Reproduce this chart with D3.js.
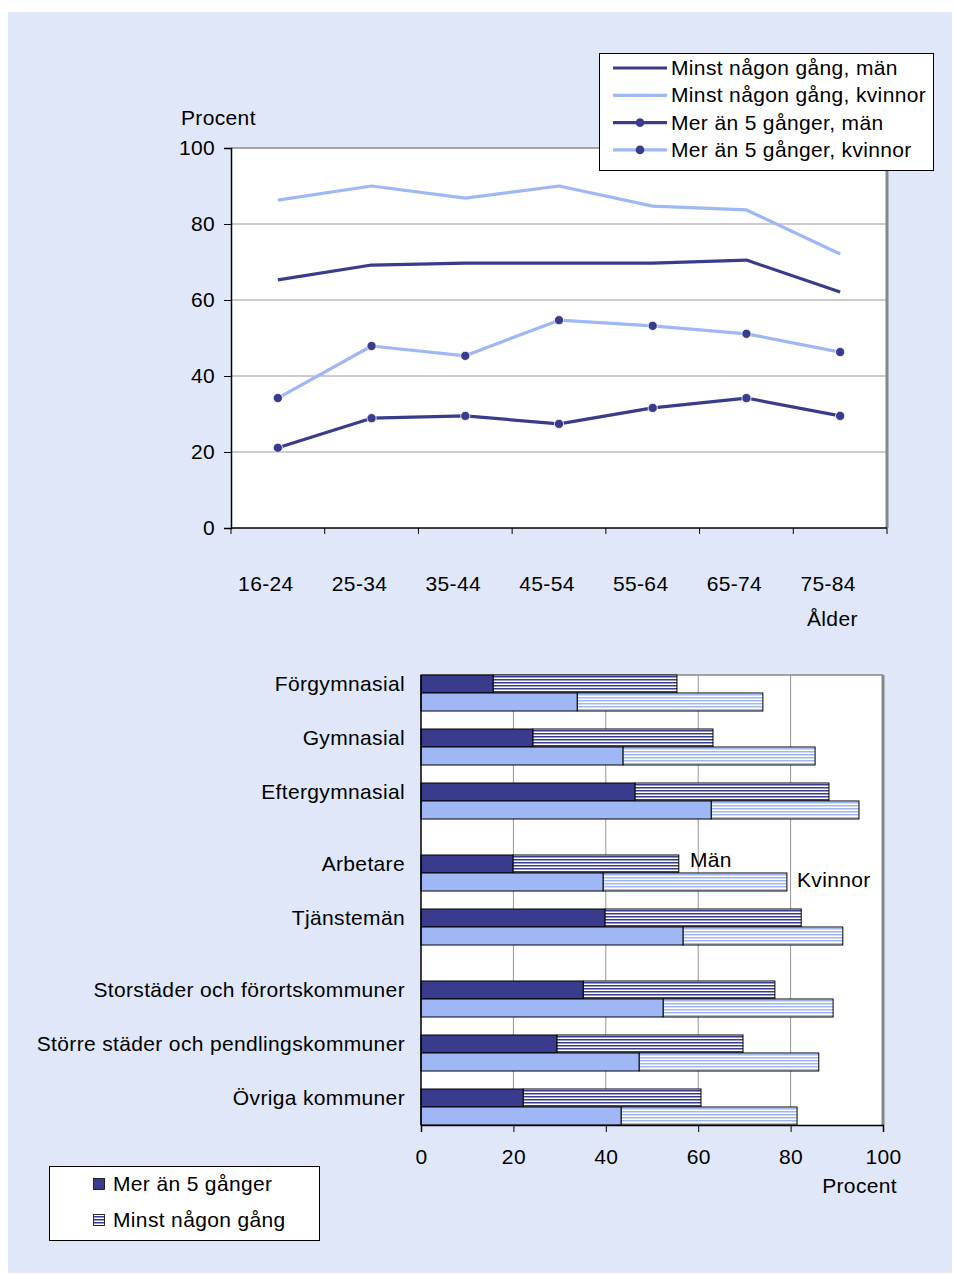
<!DOCTYPE html>
<html>
<head>
<meta charset="utf-8">
<script src="https://cdn.jsdelivr.net/npm/d3@7"></script>
<style>
body { margin: 0; background: #fff; }
text { font-family: "Liberation Sans", Arial, sans-serif; fill: #000; letter-spacing: 0.35px; }
</style>
</head>
<body>
<svg id="chart" width="954" height="1275"></svg>
<script>
// line chart data (percent)
var ageGroups = ["16-24", "25-34", "35-44", "45-54", "55-64", "65-74", "75-84"];
var minstMan = [65.3, 69.2, 69.7, 69.7, 69.7, 70.5, 62.1];
var minstKvinnor = [86.3, 90, 86.8, 90, 84.7, 83.7, 72.1];
var merMan = [21.1, 28.9, 29.5, 27.4, 31.6, 34.2, 29.5];
var merKvinnor = [34.2, 47.9, 45.3, 54.7, 53.2, 51.1, 46.3];
var lineTicks = [0, 20, 40, 60, 80, 100];

// bar chart data (percent)
var barCategories = ["Förgymnasial", "Gymnasial", "Eftergymnasial", "Arbetare", "Tjänstemän",
    "Storstäder och förortskommuner", "Större städer och pendlingskommuner", "Övriga kommuner"];
var barGroup = [0, 0, 0, 1, 1, 2, 2, 2];
var merAn5Man = [15.6, 24.2, 46.3, 19.9, 39.8, 35.1, 29.4, 22.1];
var minstNagonMan = [55.4, 63.2, 88.3, 55.8, 82.3, 76.6, 69.7, 60.6];
var merAn5Kvinnor = [33.8, 43.7, 62.8, 39.4, 56.7, 52.4, 47.2, 43.3];
var minstNagonKvinnor = [74.0, 85.3, 94.8, 79.2, 91.3, 89.2, 86.1, 81.4];
var barTicks = [0, 20, 40, 60, 80, 100];

var dark = "#393C8C";
var light = "#9FB7F5";
var fontSize = 21;

var svg = d3.select("#chart");

svg.append("rect").attr("x", 8).attr("y", 12).attr("width", 944).attr("height", 1261)
    .attr("fill", "#DFE7F8");

var defs = svg.append("defs");
makeStripes("stripeDark", dark);
makeStripes("stripeLight", light);

function makeStripes(id, color) {
    var p = defs.append("pattern").attr("id", id)
        .attr("patternUnits", "userSpaceOnUse")
        .attr("width", 6).attr("height", 3);
    p.append("rect").attr("width", 6).attr("height", 3).attr("fill", "#fff");
    p.append("rect").attr("y", 1).attr("width", 6).attr("height", 1.5).attr("fill", color);
}

drawLineChart();
drawBarChart();

function drawLineChart() {
    var left = 231, right = 887, top = 148, bottom = 528;
    var x = d3.scaleBand().domain(ageGroups).range([left, right]);
    var y = d3.scaleLinear().domain([0, 100]).range([bottom, top]);

    svg.append("rect").attr("x", left).attr("y", top)
        .attr("width", right - left).attr("height", bottom - top).attr("fill", "#fff");

    // gridlines
    svg.selectAll("line.hgrid").data(lineTicks.slice(1, 5)).enter().append("line")
        .attr("class", "hgrid")
        .attr("x1", left).attr("x2", right)
        .attr("y1", function (d) { return y(d); }).attr("y2", function (d) { return y(d); })
        .attr("stroke", "#999").attr("stroke-width", 1);
    svg.append("line").attr("x1", left).attr("x2", right).attr("y1", top).attr("y2", top)
        .attr("stroke", "#888").attr("stroke-width", 1.5);
    svg.append("line").attr("x1", right).attr("x2", right).attr("y1", top).attr("y2", bottom)
        .attr("stroke", "#888").attr("stroke-width", 3);

    // y axis
    var yAxis = d3.axisLeft(y).tickValues(lineTicks).tickSize(7).tickPadding(9);
    var ga = svg.append("g").attr("transform", "translate(" + left + ",0)").call(yAxis);
    styleAxis(ga);

    // x axis: ticks at band boundaries, labels further down
    var gx = svg.append("g");
    gx.append("line").attr("x1", left).attr("x2", right).attr("y1", bottom).attr("y2", bottom)
        .attr("stroke", "#000").attr("stroke-width", 1.5);
    var bounds = ageGroups.map(function (d) { return x(d); }).concat([right]);
    gx.selectAll("line.tick").data(bounds).enter().append("line")
        .attr("x1", function (d) { return d; }).attr("x2", function (d) { return d; })
        .attr("y1", bottom).attr("y2", bottom + 6)
        .attr("stroke", "#000").attr("stroke-width", 1);
    gx.selectAll("text").data(ageGroups).enter().append("text")
        .attr("x", function (d) { return x(d) + x.bandwidth() / 2 - 12; })
        .attr("y", 591)
        .attr("text-anchor", "middle")
        .style("font-size", fontSize + "px")
        .text(function (d) { return d; });

    svg.append("text").attr("x", 181).attr("y", 125).style("font-size", fontSize + "px").text("Procent");
    svg.append("text").attr("x", 807).attr("y", 626).style("font-size", fontSize + "px").text("Ålder");

    var series = [
        { name: "Minst någon gång, män", values: minstMan, color: dark, dots: false },
        { name: "Minst någon gång, kvinnor", values: minstKvinnor, color: light, dots: false },
        { name: "Mer än 5 gånger, män", values: merMan, color: dark, dots: true },
        { name: "Mer än 5 gånger, kvinnor", values: merKvinnor, color: light, dots: true }
    ];

    var line = d3.line()
        .x(function (d, i) { return x(ageGroups[i]) + x.bandwidth() / 2; })
        .y(function (d) { return y(d); });

    series.forEach(function (s) {
        svg.append("path").attr("d", line(s.values))
            .attr("fill", "none").attr("stroke", s.color).attr("stroke-width", 3.2)
            .attr("stroke-linejoin", "round");
        if (s.dots) {
            svg.selectAll(null).data(s.values).enter().append("circle")
                .attr("cx", function (d, i) { return x(ageGroups[i]) + x.bandwidth() / 2; })
                .attr("cy", function (d) { return y(d); })
                .attr("r", 4.6)
                .attr("fill", dark).attr("stroke", "#fff").attr("stroke-width", 0.8);
        }
    });

    // legend
    var lg = svg.append("g");
    lg.append("rect").attr("x", 599.5).attr("y", 53.5).attr("width", 334).attr("height", 117)
        .attr("fill", "#fff").attr("stroke", "#000").attr("stroke-width", 1);
    series.forEach(function (s, i) {
        var cy = 68 + i * 27.3;
        lg.append("line").attr("x1", 613).attr("x2", 667).attr("y1", cy).attr("y2", cy)
            .attr("stroke", s.color).attr("stroke-width", 3.2);
        if (s.dots) {
            lg.append("circle").attr("cx", 640).attr("cy", cy).attr("r", 4.3).attr("fill", dark);
        }
        lg.append("text").attr("x", 671).attr("y", cy + 7)
            .style("font-size", fontSize + "px").text(s.name);
    });
}

function drawBarChart() {
    var left = 421, right = 883, top = 675, bottom = 1125;
    var x = d3.scaleLinear().domain([0, 100]).range([left, right]);
    // 25 slots of equal height: 2 per category, 1 between categories, 2 between groups
    var slot = d3.scaleLinear().domain([0, 25]).range([top, bottom]);
    function rowStart(i) { return i * 3 + barGroup[i]; }
    var h = slot(1) - slot(0);

    svg.append("rect").attr("x", left).attr("y", top)
        .attr("width", right - left).attr("height", bottom - top).attr("fill", "#fff");

    svg.selectAll("line.vgrid").data(barTicks.slice(1, 5)).enter().append("line")
        .attr("class", "vgrid")
        .attr("x1", function (d) { return x(d); }).attr("x2", function (d) { return x(d); })
        .attr("y1", top).attr("y2", bottom)
        .attr("stroke", "#999").attr("stroke-width", 1);
    svg.append("line").attr("x1", left).attr("x2", right).attr("y1", top).attr("y2", top)
        .attr("stroke", "#888").attr("stroke-width", 1.5);
    svg.append("line").attr("x1", right).attr("x2", right).attr("y1", top).attr("y2", bottom)
        .attr("stroke", "#888").attr("stroke-width", 3);

    var rows = barCategories.map(function (c, i) {
        return {
            name: c, i: i,
            men: [merAn5Man[i], minstNagonMan[i]],
            women: [merAn5Kvinnor[i], minstNagonKvinnor[i]]
        };
    });

    rows.forEach(function (r) {
        var y0 = slot(rowStart(r.i));
        drawPair(y0, r.men, dark, "url(#stripeDark)");
        drawPair(y0 + h, r.women, light, "url(#stripeLight)");
        svg.append("text").attr("x", 405).attr("y", y0 + h / 2 + 7)
            .attr("text-anchor", "end").style("font-size", fontSize + "px").text(r.name);
    });

    function drawPair(y0, vals, solid, striped) {
        svg.append("rect").attr("x", x(vals[0])).attr("y", y0)
            .attr("width", x(vals[1]) - x(vals[0])).attr("height", h)
            .attr("fill", striped).attr("stroke", "#000").attr("stroke-width", 1);
        svg.append("rect").attr("x", x(0)).attr("y", y0)
            .attr("width", x(vals[0]) - x(0)).attr("height", h)
            .attr("fill", solid).attr("stroke", "#000").attr("stroke-width", 1);
    }

    // axes
    svg.append("line").attr("x1", left).attr("x2", left).attr("y1", top).attr("y2", bottom)
        .attr("stroke", "#000").attr("stroke-width", 1.5);
    var xAxis = d3.axisBottom(x).tickValues(barTicks).tickSize(7).tickPadding(17);
    var gx = svg.append("g").attr("transform", "translate(0," + bottom + ")").call(xAxis);
    styleAxis(gx);

    svg.append("text").attr("x", 897).attr("y", 1193).attr("text-anchor", "end")
        .style("font-size", fontSize + "px").text("Procent");

    // annotations
    svg.append("text").attr("x", 690).attr("y", 867).style("font-size", fontSize + "px").text("Män");
    svg.append("text").attr("x", 797).attr("y", 887).style("font-size", fontSize + "px").text("Kvinnor");

    // legend
    var lg = svg.append("g");
    lg.append("rect").attr("x", 49.5).attr("y", 1166.5).attr("width", 270).attr("height", 74)
        .attr("fill", "#fff").attr("stroke", "#000").attr("stroke-width", 1);
    var items = [["Mer än 5 gånger", dark], ["Minst någon gång", "url(#stripeDark)"]];
    items.forEach(function (it, i) {
        var cy = 1184 + i * 36;
        lg.append("rect").attr("x", 93.5).attr("y", cy - 5.5).attr("width", 11).attr("height", 11)
            .attr("fill", it[1]).attr("stroke", "#000").attr("stroke-width", 0.8);
        lg.append("text").attr("x", 113).attr("y", cy + 7)
            .style("font-size", fontSize + "px").text(it[0]);
    });
}

function styleAxis(g) {
    g.select(".domain").attr("stroke", "#000").attr("stroke-width", 1.5);
    g.selectAll(".tick line").attr("stroke", "#000");
    g.selectAll(".tick text").style("font-size", fontSize + "px")
        .style("font-family", "'Liberation Sans', Arial, sans-serif").attr("fill", "#000");
}
</script>
</body>
</html>
